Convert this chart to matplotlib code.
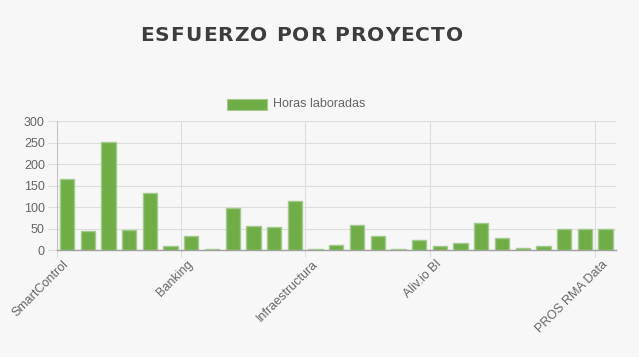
import matplotlib
matplotlib.use("Agg")
import matplotlib.pyplot as plt
from matplotlib.font_manager import FontProperties
import numpy as np

# ── Data ──────────────────────────────────────────────────────────────────────
# 27 projects; only every few names are visible on the axis
hours = [165, 44, 251, 47, 132, 9, 33, 2, 97, 56, 53, 114, 2,
         11, 58, 32, 2, 23, 9, 16, 62, 28, 4, 9, 48, 48, 48]
label_idx = [0, 6, 12, 18, 26]
label_names = ["SmartControl", "Banking", "Infraestructura", "Aliv.io BI", "PROS RMA Data"]
y_ticks = [0, 50, 100, 150, 200, 250, 300]
title = "ESFUERZO POR PROYECTO"

# ── Aesthetics ────────────────────────────────────────────────────────────────
BG = "#f7f7f7"
BAR = "#70ad47"
EDGE = "#a3c98c"
GRID = "#dddddd"
TEXT = "#666666"
FONT = "Liberation Sans"

fig = plt.figure(figsize=(6.39, 3.57), dpi=100)
fig.patch.set_facecolor(BG)
ax = fig.add_axes([0.0887, 0.2997, 0.9640 - 0.0887, 0.661 - 0.2997])
ax.set_facecolor(BG)

x = np.arange(len(hours))
ax.bar(x, hours, width=0.69, color=BAR, edgecolor=EDGE, linewidth=1.0, zorder=3)

ax.set_xlim(-0.5, len(hours) - 0.5)
ax.set_ylim(0, 300)

# y axis
ax.set_yticks(y_ticks)
ax.set_yticklabels([str(v) for v in y_ticks], fontsize=9, color=TEXT, family=FONT)
ax.tick_params(axis="y", length=6.5, width=0.8, color=GRID, pad=2)
ax.grid(axis="y", color=GRID, linewidth=0.8, zorder=0)

# x axis: labels centred on bars, grid lines at the left edge of labelled bars
ax.set_xticks(label_idx)
ax.set_xticklabels(label_names, rotation=45, ha="right", va="center",
                   rotation_mode="anchor", fontsize=9, color=TEXT, family=FONT)
ax.tick_params(axis="x", which="major", length=0, pad=9)
ax.set_xticks([i - 0.5 for i in label_idx], minor=True)
ax.tick_params(axis="x", which="minor", length=5, width=0.8, color=GRID)
ax.grid(axis="x", which="minor", color=GRID, linewidth=0.8, zorder=0)

for side in ["top", "right"]:
    ax.spines[side].set_visible(False)
ax.spines["left"].set_color("#c4c4c4")
ax.spines["left"].set_linewidth(0.8)
ax.spines["bottom"].set_color("#a0a0a0")
ax.spines["bottom"].set_linewidth(1.0)

# title, letter-spaced: place each character across x = 140..463 px
fp = FontProperties(family="DejaVu Sans", weight="bold", size=14.5)
renderer = fig.canvas.get_renderer()
widths = [renderer.get_text_width_height_descent(ch, fp, ismath=False)[0] for ch in title]
left_px, right_px = 140, 463
spacing = (right_px - left_px - sum(widths)) / (len(title) - 1)
pos = left_px
for ch, w in zip(title, widths):
    fig.text(pos / 639, 1 - 35.5 / 357, ch, ha="left", va="center",
             fontproperties=fp, color="#3d3d3d")
    pos += w + spacing

# legend
fig.patches.append(plt.Rectangle((227 / 639, 1 - 110 / 357), 40 / 639, 11 / 357,
                                 transform=fig.transFigure, facecolor=BAR,
                                 edgecolor=EDGE, linewidth=0.8))
fig.text(273 / 639, 1 - 104 / 357, "Horas laboradas", ha="left", va="center",
         fontsize=9, color=TEXT, family=FONT)

plt.savefig("out.png", dpi=100, facecolor=BG)
